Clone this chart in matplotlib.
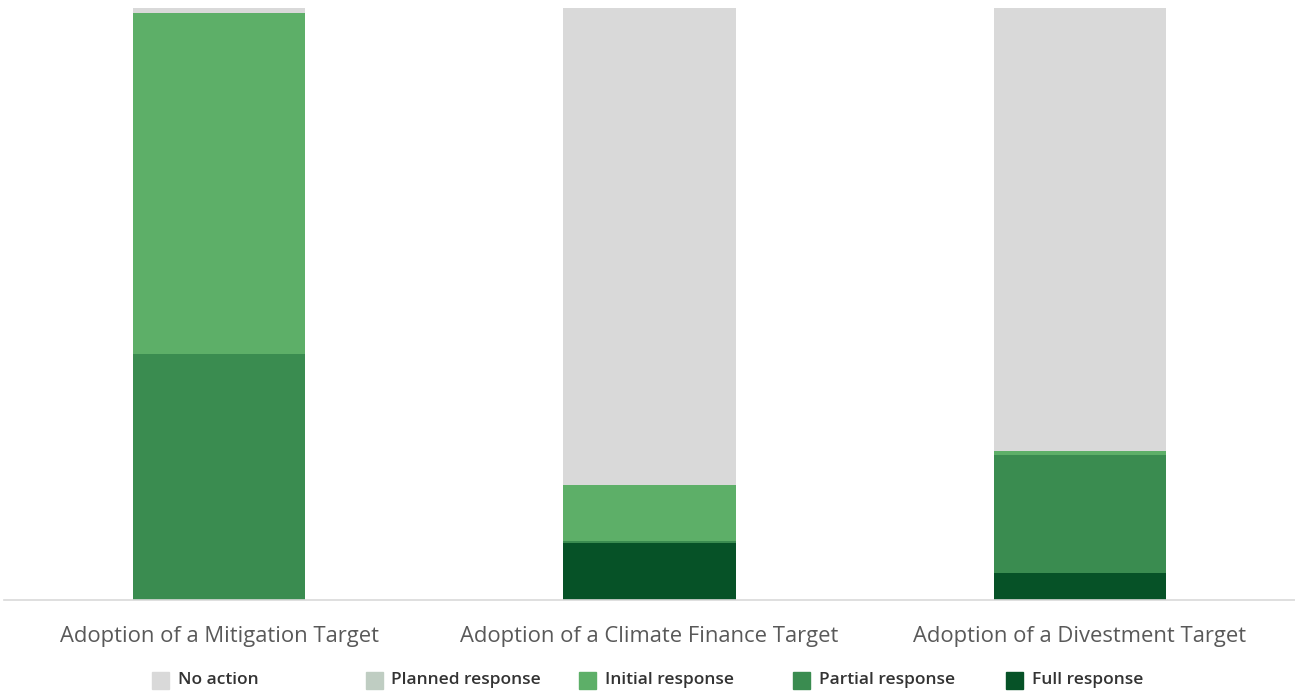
import numpy as np
import matplotlib
matplotlib.use('Agg')
import matplotlib.pyplot as plt
from matplotlib.patches import Rectangle

plt.rcParams['font.family'] = ['Open Sans', 'DejaVu Sans']

targets = ['Adoption of a Mitigation Target', 'Adoption of a Climate Finance Target',
           'Adoption of a Divestment Target']
# share of responses (%) stacked from the bottom up
full_resp = [0.0, 9.6, 4.6]
partial_resp = [41.5, 0.4, 19.9]
initial_resp = [57.7, 9.5, 0.7]
planned_resp = [0.0, 0.0, 0.0]
no_action = [0.8, 80.5, 74.8]

series = [('Full response', full_resp, '#065227'),
          ('Partial response', partial_resp, '#3a8c50'),
          ('Initial response', initial_resp, '#5daf68'),
          ('Planned response', planned_resp, '#bfcdc2'),
          ('No action', no_action, '#d9d9d9')]

W, H = 1295, 691
fig = plt.figure(figsize=(W / 100, H / 100), dpi=100)
ax = fig.add_axes([4 / W, (H - 600) / H, 1291 / W, 592 / H])

x = np.arange(len(targets))
bottom = np.zeros(len(targets))
for name, vals, col in series:
    vals = np.array(vals)
    ax.bar(x, vals, width=0.4, bottom=bottom, color=col, label=name, zorder=2)
    bottom += vals

ax.set_xlim(-0.5, 2.5)
ax.set_ylim(0, 100)
ax.set_yticks([])
ax.set_xticks(x)
ax.set_xticklabels(targets, fontsize=15.8, color='#595959')
ax.tick_params(axis='x', length=0, pad=19)
for s in ['top', 'right', 'left']:
    ax.spines[s].set_visible(False)
ax.spines['bottom'].set_color('#d9d9d9')
ax.spines['bottom'].set_linewidth(1.2)

# legend row, evenly spaced like the source layout
legend_order = ['No action', 'Planned response', 'Initial response',
                'Partial response', 'Full response']
colours = {n: c for n, _, c in series}
for i, name in enumerate(legend_order):
    x0 = 152 + i * 213.5
    fig.add_artist(Rectangle((x0 / W, (H - 689) / H), 17 / W, 17 / H,
                             transform=fig.transFigure, color=colours[name]))
    fig.text((x0 + 26) / W, (H - 680) / H, name, fontsize=12.5, fontweight='semibold',
             color='#333333', va='center', ha='left')

fig.savefig('out.png', dpi=100, facecolor='white')
